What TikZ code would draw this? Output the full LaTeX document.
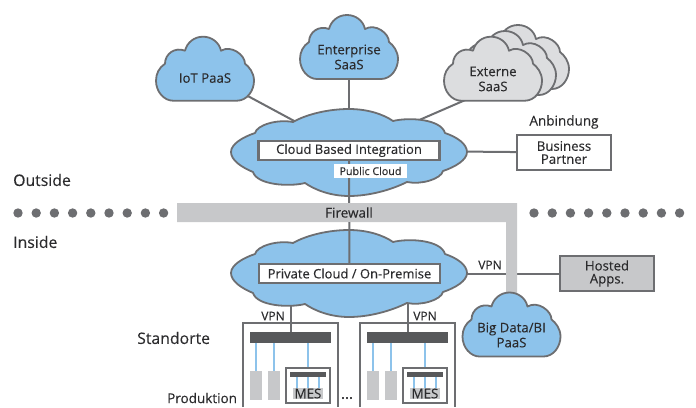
\documentclass[tikz,border=0pt]{standalone}
\usepackage{xcolor}
\usepackage{fontspec}
\setmainfont[FakeBold=0.2]{Open Sans}
\usepackage{tikz}
\pgfdeclarelayer{bg}
\pgfsetlayers{bg,main}
\definecolor{cloudblue}{HTML}{8DC3EB}
\definecolor{linegray}{HTML}{6D6E71}
\definecolor{bandgray}{HTML}{C7C8CA}
\definecolor{palegray}{HTML}{DCDDDF}
\definecolor{bargray}{HTML}{58595B}
\definecolor{inkgray}{HTML}{2B2B2D}
\tikzset{
	conn/.style={draw=linegray,line width=2pt},
	feed/.style={draw=cloudblue,line width=2pt},
	cloudline/.style={draw=linegray,line width=1.8pt,line join=round},
	cloudtext/.style={inner sep=0pt,align=center,text=inkgray,font=\fontsize{13.2}{15}\selectfont},
	title/.style={inner sep=0pt,text=inkgray,font=\fontsize{15.8}{18}\selectfont},
	vpn/.style={inner sep=0pt,text=inkgray,font=\fontsize{12}{14}\selectfont},
	wide/.style={draw=linegray,line width=2.4pt,fill=white,inner sep=0pt,minimum width=181,minimum height=19,text=inkgray,font=\fontsize{13}{15}\selectfont},
	sidebox/.style={draw=linegray,line width=2.2pt,inner sep=0pt,minimum width=94,minimum height=35,align=center,text=inkgray,font=\fontsize{13.2}{13}\selectfont},
	dot/.style={circle,fill=linegray,inner sep=0pt,minimum size=9.4},
	pics/smallcloud/.style={code={
		\draw[cloudline,fill=#1] (-32,32) -- (32,32) .. controls (42,32) and (49,22) .. (49,12) .. controls (49,4) and (44,-2) .. (40,-5) .. controls (40,-14) and (26,-24) .. (16,-18) .. controls (14,-27) and (6,-32) .. (-2,-32) .. controls (-11,-32) and (-18,-26) .. (-20,-18) .. controls (-30,-22) and (-40,-15) .. (-40,-5) .. controls (-46,-1) and (-49,5) .. (-49,12) .. controls (-49,23) and (-41,32) .. (-32,32) -- cycle;
	}},
	pics/bigcloud/.style={code={
		\draw[cloudline,fill=cloudblue] (-118,0) .. controls (-118,-8) and (-106,-15) .. (-94,-19) .. controls (-92,-27) and (-72,-33) .. (-56,-30) .. controls (-42,-38) and (-20,-43) .. (0,-43) .. controls (18,-43) and (34,-38) .. (44,-31) .. controls (60,-35) and (92,-33) .. (96,-19) .. controls (108,-15) and (118,-8) .. (118,0) .. controls (118,8) and (106,15) .. (94,19) .. controls (92,27) and (72,33) .. (58,30) .. controls (42,38) and (20,44) .. (0,44) .. controls (-18,44) and (-34,38) .. (-44,31) .. controls (-60,35) and (-92,33) .. (-96,20) .. controls (-108,15) and (-118,8) .. (-118,0) -- cycle;
	}},
	pics/site/.style={code={
		\draw[draw=linegray,line width=2pt] (0,84) -- (0,0) -- (95,0) -- (95,84);
		\node[fill=bargray,inner sep=0pt,minimum width=81,minimum height=11] (-bar) at (47.5,14.5) {};
		\node[fill=bandgray,inner sep=0pt,minimum width=12,minimum height=29] (-blocka) at (13,62.5) {};
		\node[fill=bandgray,inner sep=0pt,minimum width=12,minimum height=29] (-blockb) at (30.5,62.5) {};
		\node[draw=linegray,line width=1.8pt,fill=white,inner sep=0pt,minimum width=44,minimum height=35] (-mes) at (65,62.5) {};
		\node[fill=bargray,inner sep=0pt,minimum width=36,minimum height=5] (-inbar) at (65,51.5) {};
		\node[fill=bandgray,inner sep=0pt,minimum width=30,minimum height=11,font=\fontsize{13.3}{14}\selectfont,text=inkgray] (-server) at (65,70.5) {MES};
		\draw[feed] (-blocka.north) -- (-blocka.north |- -bar.south);
		\draw[feed] (-blockb.north) -- (-blockb.north |- -bar.south);
		\draw[feed] (-mes.north) -- (-mes.north |- -bar.south);
		\draw[feed] (-server.north) -- (-inbar.south);
		\draw[feed] ([xshift=-11]-server.north) -- ([xshift=-11]-inbar.south);
		\draw[feed] ([xshift=11]-server.north) -- ([xshift=11]-inbar.south);
	}}
}
\begin{document}
\begin{tikzpicture}[x=1pt,y=-1pt]
	\useasboundingbox (0,0) rectangle (696,407);

	\pic (sa) at (243,323) {site};
	\pic (sb) at (360,323) {site};

	\fill[bandgray] (177,203) -- (517,203) -- (517,296) -- (506,296) -- (506,222) -- (177,222) -- cycle;

	\pic at (205,68.7) {smallcloud=cloudblue};
	\pic at (349,47) {smallcloud=cloudblue};
	\pic at (520,57) {smallcloud=palegray};
	\pic at (507,63) {smallcloud=palegray};
	\pic at (493,68.7) {smallcloud=palegray};
	\pic at (511.5,324.5) {smallcloud=cloudblue};
	\pic at (349,152) {bigcloud};
	\pic at (349,273) {bigcloud};

	\node[wide] (cbi) at (349,150.5) {Cloud Based Integration};
	\node[wide] (priv) at (349.5,273.5) {Private Cloud / On-Premise};
	\node[sidebox,fill=white] (partner) at (564,152.5) {Business\\Partner};
	\node[sidebox,fill=bandgray] (hosted) at (607,273.5) {Hosted\\Apps.};

	\node[cloudtext] (iot) at (205,78) {IoT PaaS};
	\node[cloudtext] (enterprise) at (349,57) {Enterprise\\SaaS};
	\node[cloudtext] (externe) at (493,79) {Externe\\SaaS};
	\node[cloudtext] (bigdata) at (511.5,335) {Big Data/BI\\PaaS};

	\begin{pgfonlayer}{bg}
		\draw[conn] (iot.north) -- (cbi);
		\draw[conn] (enterprise) -- (cbi);
		\draw[conn] ([yshift=-9]externe.center) -- (cbi);
		\draw[conn] (cbi) -- (partner);
		\draw[conn] (priv) -- (hosted);
		\draw[conn] (sa-bar.north) -- (sa-bar.north |- priv.south);
		\draw[conn] (sb-bar.north) -- (sb-bar.north |- priv.south);
	\end{pgfonlayer}

	\draw[conn] (cbi) -- (priv);
	\node[fill=white,inner sep=0pt,minimum width=73,minimum height=14,font=\fontsize{10.7}{12}\selectfont,text=inkgray] (public) at (370.5,171) {Public Cloud};
	\node[fill=bandgray,inner sep=0pt,minimum width=54,minimum height=19,font=\fontsize{13.5}{14}\selectfont,text=inkgray] (firewall) at (349,212.5) {Firewall};

	\node[title,font=\fontsize{13.5}{16}\selectfont] (anbindung) at (564,122) {Anbindung};
	\node[title,anchor=west] (outside) at (13,180) {Outside};
	\node[title,anchor=west] (inside) at (13,242) {Inside};
	\node[title,anchor=west] (standorte) at (137,338) {Standorte};
	\node[cloudtext,anchor=west,font=\fontsize{13.5}{15}\selectfont] (produktion) at (167,398) {Produktion};
	\node[vpn] (vpna) at (273,316) {VPN};
	\node[vpn] (vpnb) at (425,316) {VPN};
	\node[vpn] (vpnc) at (490,265) {VPN};
	\node[vpn,font=\fontsize{15}{16}\selectfont] (more) at (347,398) {...};

	\foreach \dx in {18,36.2,54.4,72.6,90.8,109,127.2,145.4,163.6} {
		\node[dot] at (\dx,213) {};
	}
	\foreach \dx in {534,552.2,570.4,588.6,606.8,625,643.2,661.4,679.6} {
		\node[dot] at (\dx,213) {};
	}
\end{tikzpicture}
\end{document}
